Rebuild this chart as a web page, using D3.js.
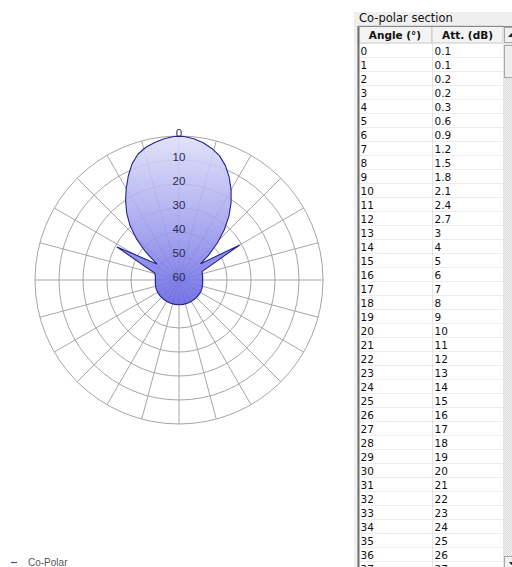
<!DOCTYPE html>
<html>
<head>
<meta charset="utf-8">
<script src="https://cdn.jsdelivr.net/npm/d3@7"></script>
<style>
  body { margin: 0; background: #fff; }
  svg { display: block; }
</style>
</head>
<body>
<div id="chart"></div>
<script>
// pattern (angle in deg, clockwise from top; attenuation in dB)
const patternAngles = [-180, -170, -160, -150, -140, -130, -120, -110, -100, -90, -80, -74, -62, -54, -50, -46, -42, -38, -34, -30, -26, -22, -18, -14, -10, -6, -2,
  0, 2, 6, 10, 14, 18, 22, 26, 30, 34, 38, 42, 46, 50, 53, 60, 70, 80, 90, 100, 110, 120, 130, 140, 150, 160, 170];
const patternAtt = [49.7, 49.7, 49.7, 49.7, 49.7, 49.7, 49.7, 49.8, 50, 50.2, 50, 49.4, 30.8, 48.6, 42, 35.5, 29.5, 24.6, 20.2, 16.0, 11.8, 7.8, 4.8, 3.0, 1.8, 0.8, 0.2,
  0.1, 0.2, 0.8, 1.9, 3.5, 5.5, 8.5, 12.3, 16.6, 21.2, 26.2, 31.8, 37.8, 44, 48.7, 31, 49.8, 50, 50.2, 50, 49.8, 49.7, 49.7, 49.7, 49.7, 49.7, 49.7];

// radial tick labels (dB)
const ringLabels = [0, 10, 20, 30, 40, 50, 60];
const spokeAngles = d3.range(0, 360, 15);

// table "Co-polar section"
const tableHeaders = ["Angle (°)", "Att. (dB)"];
const tableAngles = [0, 1, 2, 3, 4, 5, 6, 7, 8, 9, 10, 11, 12, 13, 14, 15, 16, 17, 18, 19, 20, 21, 22, 23, 24, 25, 26, 27, 28, 29, 30, 31, 32, 33, 34, 35, 36, 37];
const tableAtt = ["0.1", "0.1", "0.2", "0.2", "0.3", "0.6", "0.9", "1.2", "1.5", "1.8", "2.1", "2.4", "2.7", "3", "4", "5", "6", "7", "8", "9", "10", "11", "12", "13", "14", "15", "16", "17", "18", "19", "20", "21", "22", "23", "24", "25", "26", "27"];

const legendLabel = "Co-Polar";

const W = 512, H = 567;
const cx = 179, cy = 280, R = 144;

const svg = d3.select("#chart").append("svg")
  .attr("width", W)
  .attr("height", H)
  .style("font-family", "'DejaVu Sans', sans-serif");

const defs = svg.append("defs");
// gradient in the polar group's own coordinates (origin at the centre)
const grad = defs.append("linearGradient")
  .attr("id", "lobeFill")
  .attr("gradientUnits", "userSpaceOnUse")
  .attr("x1", 0).attr("y1", -R)
  .attr("x2", 0).attr("y2", 26);
grad.append("stop").attr("offset", 0).attr("stop-color", "#dedef9");
grad.append("stop").attr("offset", 0.45).attr("stop-color", "#a9a9f0");
grad.append("stop").attr("offset", 1).attr("stop-color", "#6262e3");

const hatch = defs.append("pattern")
  .attr("id", "hatch")
  .attr("width", 2).attr("height", 2)
  .attr("patternUnits", "userSpaceOnUse");
hatch.append("rect").attr("width", 2).attr("height", 2).attr("fill", "#f4f4f4");
hatch.append("rect").attr("width", 1).attr("height", 1).attr("fill", "#d8d8d8");
hatch.append("rect").attr("x", 1).attr("y", 1).attr("width", 1).attr("height", 1).attr("fill", "#d8d8d8");

// ---- polar plot ----
const r = d3.scaleLinear().domain([60, 0]).range([0, R]);
const polar = svg.append("g").attr("transform", `translate(${cx},${cy})`);

// grid rings
polar.selectAll("circle.ring")
  .data(ringLabels.filter(d => d < 60))
  .enter()
  .append("circle")
  .attr("class", "ring")
  .attr("r", d => r(d))
  .attr("fill", "none")
  .attr("stroke", "#a6a6a6")
  .attr("stroke-width", 1);

// spokes
polar.selectAll("line.spoke")
  .data(spokeAngles)
  .enter()
  .append("line")
  .attr("class", "spoke")
  .attr("x1", 0).attr("y1", 0)
  .attr("x2", d => R * Math.sin(d * Math.PI / 180))
  .attr("y2", d => -R * Math.cos(d * Math.PI / 180))
  .attr("stroke", "#a6a6a6")
  .attr("stroke-width", 1);

const pattern = patternAngles.map((a, i) => ({ angle: a, att: patternAtt[i] }));
const radial = d3.lineRadial()
  .angle(d => d.angle * Math.PI / 180)
  .radius(d => r(d.att))
  .curve(d3.curveLinearClosed);

polar.append("path")
  .datum(pattern)
  .attr("d", radial)
  .attr("fill", "url(#lobeFill)")
  .attr("fill-opacity", 0.88)
  .attr("stroke", "#23238f")
  .attr("stroke-width", 1.1)
  .attr("stroke-linejoin", "round");

// ring labels on the vertical axis
polar.selectAll("text.rl")
  .data(ringLabels)
  .enter()
  .append("text")
  .attr("class", "rl")
  .attr("x", 0)
  .attr("y", d => -r(d) - 2)
  .attr("text-anchor", "middle")
  .attr("dominant-baseline", "middle")
  .attr("font-family", "'Liberation Sans', sans-serif")
  .attr("font-size", 11.5)
  .attr("fill", "#2a2a50")
  .text(d => d);

// legend (at the bottom edge)
svg.append("line")
  .attr("x1", 11).attr("x2", 17)
  .attr("y1", 562.5).attr("y2", 562.5)
  .attr("stroke", "#4c4c90")
  .attr("stroke-width", 1.2);
svg.append("text")
  .attr("x", 28)
  .attr("y", 566)
  .attr("font-family", "'Liberation Sans', sans-serif")
  .attr("font-size", 10)
  .attr("fill", "#555")
  .text(legendLabel);

// ---- table panel ----
const panel = svg.append("g");
panel.append("rect")
  .attr("x", 354).attr("y", 12)
  .attr("width", W - 354).attr("height", H - 12)
  .attr("fill", "#efefef");

panel.append("text")
  .attr("x", 359).attr("y", 22)
  .attr("font-size", 11.5)
  .attr("fill", "#111")
  .text("Co-polar section");

const tx = 358, ty = 26, colDiv = 432, tRight = 503, headH = 17, rowH = 14;

// table body background
panel.append("rect")
  .attr("x", tx).attr("y", ty)
  .attr("width", W - tx).attr("height", H - ty)
  .attr("fill", "#fff");

// header cells
const headG = panel.append("g");
headG.selectAll("rect")
  .data([[tx, colDiv], [colDiv, tRight]])
  .enter()
  .append("rect")
  .attr("x", d => d[0])
  .attr("y", ty)
  .attr("width", d => d[1] - d[0])
  .attr("height", headH)
  .attr("fill", "#f3f3f3")
  .attr("stroke", "#c8c8c8")
  .attr("stroke-width", 1);
headG.selectAll("text")
  .data(tableHeaders)
  .enter()
  .append("text")
  .attr("x", (d, i) => i === 0 ? (tx + colDiv) / 2 : (colDiv + tRight) / 2)
  .attr("y", ty + 12.5)
  .attr("text-anchor", "middle")
  .attr("font-size", 10.5)
  .attr("font-weight", "bold")
  .attr("fill", "#111")
  .text(d => d);

// rows (the last one is only partly visible, as in the window)
const rowY = d3.scaleLinear().domain([0, 1]).range([ty + headH + 1, ty + headH + 1 + rowH]);
const rows = panel.selectAll("g.row")
  .data(tableAngles)
  .enter()
  .append("g")
  .attr("class", "row")
  .attr("transform", (d, i) => `translate(0,${rowY(i)})`);
rows.append("line")
  .attr("x1", tx).attr("x2", tRight)
  .attr("y1", rowH - 0.5).attr("y2", rowH - 0.5)
  .attr("stroke", "#ececec");
rows.append("text")
  .attr("x", tx + 2.5)
  .attr("y", 11)
  .attr("font-size", 10.5)
  .attr("fill", "#111")
  .text(d => d);
rows.append("text")
  .attr("x", colDiv + 2.5)
  .attr("y", 11)
  .attr("font-size", 10.5)
  .attr("fill", "#111")
  .text((d, i) => tableAtt[i]);

// column divider + frame
panel.append("line")
  .attr("x1", colDiv + 0.5).attr("x2", colDiv + 0.5)
  .attr("y1", ty + headH).attr("y2", H)
  .attr("stroke", "#e4e4e4");
panel.append("line")
  .attr("x1", tRight + 0.5).attr("x2", tRight + 0.5)
  .attr("y1", ty + headH).attr("y2", H)
  .attr("stroke", "#e4e4e4");
panel.append("line")
  .attr("x1", tx + 0.5).attr("x2", tx + 0.5)
  .attr("y1", ty).attr("y2", H)
  .attr("stroke", "#6e6e6e")
  .attr("stroke-width", 2);
panel.append("line")
  .attr("x1", tx).attr("x2", W)
  .attr("y1", ty + 0.5).attr("y2", ty + 0.5)
  .attr("stroke", "#8a8a8a");

// scrollbar
const sb = panel.append("g");
sb.append("rect")
  .attr("x", tRight + 1).attr("y", ty + 1)
  .attr("width", W - tRight - 1).attr("height", H - ty - 1)
  .attr("fill", "url(#hatch)");
sb.append("rect")
  .attr("x", tRight + 1.5).attr("y", ty + 1.5)
  .attr("width", 12).attr("height", 15)
  .attr("fill", "#f0f0f0").attr("stroke", "#a8a8a8");
sb.append("path")
  .attr("d", `M${tRight + 5},${ty + 11} L${tRight + 8.5},${ty + 7} L${tRight + 12},${ty + 11} Z`)
  .attr("fill", "#222");
sb.append("rect")
  .attr("x", tRight + 1.5).attr("y", ty + 19.5)
  .attr("width", 12).attr("height", 32)
  .attr("fill", "#eeeeee").attr("stroke", "#a8a8a8");
sb.append("rect")
  .attr("x", tRight + 1.5).attr("y", H - 10.5)
  .attr("width", 12).attr("height", 15)
  .attr("fill", "#f0f0f0").attr("stroke", "#a8a8a8");
sb.append("path")
  .attr("d", `M${tRight + 6},${H - 5} L${tRight + 8.5},${H - 2} L${tRight + 11},${H - 5} Z`)
  .attr("fill", "#222");
</script>
</body>
</html>
